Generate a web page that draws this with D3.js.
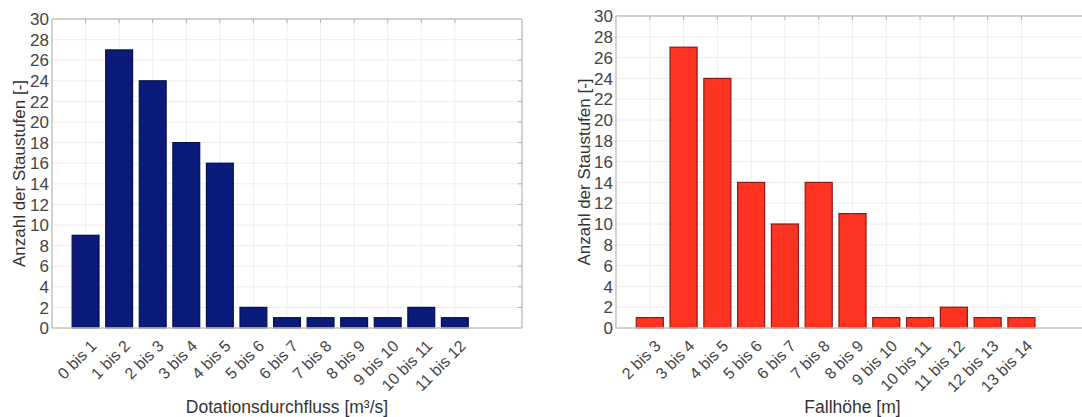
<!DOCTYPE html>
<html>
<head>
<meta charset="utf-8">
<script src="https://cdn.jsdelivr.net/npm/d3@7"></script>
<style>
  body { margin: 0; background: #fff; }
  svg { display: block; font-family: "Liberation Sans", Arial, sans-serif; }
</style>
</head>
<body>
<svg id="chart" width="1082" height="417"></svg>
<script>
// data
var flowLabels = ["0 bis 1","1 bis 2","2 bis 3","3 bis 4","4 bis 5","5 bis 6","6 bis 7","7 bis 8","8 bis 9","9 bis 10","10 bis 11","11 bis 12"];
var flowCounts = [9, 27, 24, 18, 16, 2, 1, 1, 1, 1, 2, 1];
var headLabels = ["2 bis 3","3 bis 4","4 bis 5","5 bis 6","6 bis 7","7 bis 8","8 bis 9","9 bis 10","10 bis 11","11 bis 12","12 bis 13","13 bis 14"];
var headCounts = [1, 27, 24, 14, 10, 14, 11, 1, 1, 2, 1, 1];
var yTicks = d3.range(0, 31, 2);

var svg = d3.select("#chart");

function drawPanel(opt) {
  var g = svg.append("g");
  var x = d3.scaleLinear().domain([0, 14]).range([opt.left, opt.right]);
  var y = d3.scaleLinear().domain([0, 30]).range([opt.bottom, opt.top]);
  var bw = (x(1) - x(0)) * 0.8;
  var idx = d3.range(1, opt.labels.length + 1);

  // grid
  g.selectAll(".gy").data(yTicks.slice(1)).enter().append("line")
    .attr("x1", opt.left).attr("x2", opt.right)
    .attr("y1", function(d){ return y(d); }).attr("y2", function(d){ return y(d); })
    .attr("stroke", "#f0eeeb").attr("stroke-width", 1);
  g.selectAll(".gx").data(idx).enter().append("line")
    .attr("x1", function(d){ return x(d); }).attr("x2", function(d){ return x(d); })
    .attr("y1", opt.top).attr("y2", opt.bottom)
    .attr("stroke", "#f0eeeb").attr("stroke-width", 1);

  // bars
  g.selectAll("rect.bar").data(opt.values).enter().append("rect")
    .attr("class", "bar")
    .attr("x", function(d, i){ return x(i + 1) - bw / 2; })
    .attr("width", bw)
    .attr("y", function(d){ return y(d); })
    .attr("height", function(d){ return y(0) - y(d); })
    .attr("fill", opt.fill)
    .attr("stroke", opt.stroke).attr("stroke-width", 1.2);

  // box
  var axisCol = "#c9c2ba";
  g.append("line").attr("x1", opt.left).attr("x2", opt.right).attr("y1", opt.top).attr("y2", opt.top).attr("stroke", axisCol).attr("stroke-width", 1.5);
  g.append("line").attr("x1", opt.left).attr("x2", opt.right).attr("y1", opt.bottom).attr("y2", opt.bottom).attr("stroke", axisCol).attr("stroke-width", 1.5);
  g.append("line").attr("x1", opt.left).attr("x2", opt.left).attr("y1", opt.top).attr("y2", opt.bottom).attr("stroke", axisCol).attr("stroke-width", 1.5);
  g.append("line").attr("x1", opt.right).attr("x2", opt.right).attr("y1", opt.top).attr("y2", opt.bottom).attr("stroke", axisCol).attr("stroke-width", 1.5);

  // small ticks (top and right)
  g.selectAll(".tt").data(idx).enter().append("line")
    .attr("x1", function(d){ return x(d); }).attr("x2", function(d){ return x(d); })
    .attr("y1", opt.top).attr("y2", opt.top + 4)
    .attr("stroke", "#b8b0a8");
  g.selectAll(".tr").data(yTicks.slice(1, -1)).enter().append("line")
    .attr("x1", opt.right - 4).attr("x2", opt.right)
    .attr("y1", function(d){ return y(d); }).attr("y2", function(d){ return y(d); })
    .attr("stroke", "#b8b0a8");

  // y tick labels
  g.selectAll(".yl").data(yTicks).enter().append("text")
    .attr("x", opt.left - 3)
    .attr("y", function(d){ return y(d); })
    .attr("dy", "0.36em")
    .attr("text-anchor", "end")
    .attr("font-size", 17)
    .attr("fill", "#444")
    .text(function(d){ return d; });

  // x tick labels rotated
  g.selectAll(".xl").data(opt.labels).enter().append("text")
    .attr("transform", function(d, i){ return "translate(" + (x(i + 1) + 8) + "," + (opt.bottom + 15) + ") rotate(-45)"; })
    .attr("text-anchor", "end")
    .attr("dy", "0.35em")
    .attr("font-size", 16)
    .attr("fill", "#444")
    .text(function(d){ return d; });

  // titles
  g.append("text")
    .attr("transform", "translate(" + opt.yTitleX + "," + ((opt.top + opt.bottom) / 2) + ") rotate(-90)")
    .attr("text-anchor", "middle")
    .attr("font-size", 17)
    .attr("fill", "#333")
    .text("Anzahl der Staustufen [-]");
  g.append("text")
    .attr("x", (opt.left + opt.right) / 2)
    .attr("y", 413)
    .attr("text-anchor", "middle")
    .attr("font-size", 17.5)
    .attr("fill", "#333")
    .text(opt.xTitle);
}

drawPanel({
  left: 52, right: 522, top: 19, bottom: 328,
  labels: flowLabels, values: flowCounts,
  fill: "#0b1b7c", stroke: "#06104a",
  yTitleX: 25, xTitle: "Dotationsdurchfluss [m³/s]"
});

drawPanel({
  left: 616, right: 1089, top: 16, bottom: 328,
  labels: headLabels, values: headCounts,
  fill: "#ff3322", stroke: "#8a1a12",
  yTitleX: 590, xTitle: "Fallhöhe [m]"
});
</script>
</body>
</html>
